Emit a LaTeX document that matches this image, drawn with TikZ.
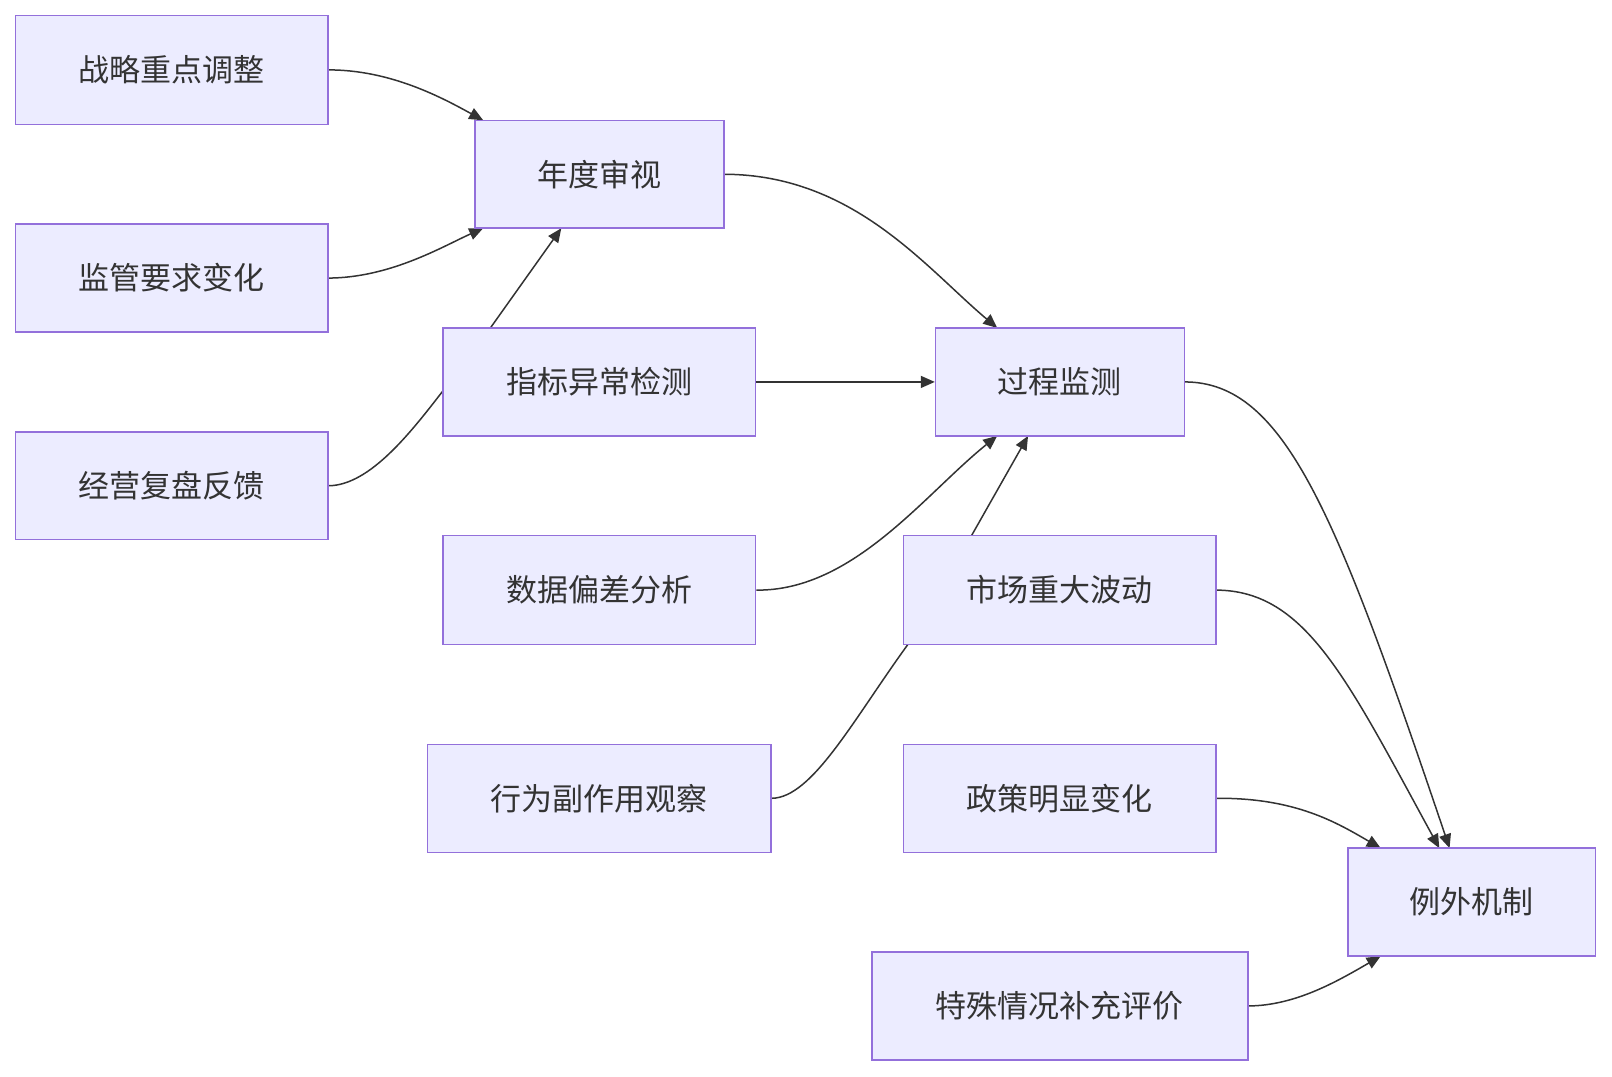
\documentclass[tikz,border=0pt]{standalone}
\usepackage{fontspec}
\setmainfont{Noto Sans CJK SC}
\usetikzlibrary{arrows.meta,calc,backgrounds}
\definecolor{fillc}{HTML}{ECECFF}
\definecolor{strokec}{HTML}{9370DB}
\definecolor{linec}{HTML}{333333}
\begin{document}
\begin{tikzpicture}[x=1.028pt,y=-1.028pt,
  box/.style={draw=strokec,fill=fillc,line width=1.5pt,inner sep=0pt,font=\fontsize{31}{36}\selectfont,text=linec},
  edge/.style={draw=linec,line width=1.5pt,-{Triangle[length=14pt,width=12pt]}}]
\useasboundingbox (0,0) rectangle (1568,1047);
\newcommand{\bx}[6]{\node[box,minimum width={(#4-#2)*1.028pt},minimum height={(#5-#3)*1.028pt}] (#1) at ({(#2+#4)/2},{(#3+#5)/2}) {#6};}
\bx{A}{15}{15}{319}{121}{战略重点调整}
\bx{B}{15}{218}{319}{323}{监管要求变化}
\bx{C}{15}{420}{319}{525}{经营复盘反馈}
\bx{D}{462}{117}{704}{222}{年度审视}
\bx{E}{431}{319}{735}{424}{指标异常检测}
\bx{F}{431}{521}{735}{627}{数据偏差分析}
\bx{G}{416}{724}{750}{829}{行为副作用观察}
\bx{H}{910}{319}{1152}{424}{过程监测}
\bx{I}{879}{521}{1183}{627}{市场重大波动}
\bx{J}{879}{724}{1183}{829}{政策明显变化}
\bx{K}{848}{926}{1214}{1031}{特殊情况补充评价}
\bx{L}{1311}{825}{1552}{930}{例外机制}
\coordinate (d1) at (470,117);
\coordinate (d2) at (470,222);
\coordinate (d3) at (546,222);
\coordinate (h1) at (970,319);
\coordinate (h2) at (970,424);
\coordinate (h3) at (1000,424);
\coordinate (l1) at (1410,825);
\coordinate (l2) at (1400,825);
\coordinate (l3) at (1343,825);
\coordinate (l4) at (1343,930);
\begin{scope}[on background layer]
\draw[edge] (A.east) .. controls (380,68) and (430,95) .. (d1);
\draw[edge] (B.east) .. controls (380,270) and (430,240) .. (d2);
\draw[edge] (C.east) .. controls (360,472) and (400,420) .. (431,380) -- (477,319) -- (d3);
\draw[edge] (D.east) .. controls (830,170) and (900,260) .. (h1);
\draw[edge] (E.east) -- (H.west);
\draw[edge] (F.east) .. controls (830,575) and (900,480) .. (h2);
\draw[edge] (G.east) .. controls (790,776) and (830,700) .. (883,627) -- (945,521) -- (h3);
\draw[edge] (H.east) .. controls (1250,372) and (1300,500) .. (l1);
\draw[edge] (I.east) .. controls (1270,575) and (1310,660) .. (l2);
\draw[edge] (J.east) .. controls (1260,776) and (1300,800) .. (l3);
\draw[edge] (K.east) .. controls (1260,978) and (1300,955) .. (l4);
\end{scope}
\end{tikzpicture}
\end{document}
